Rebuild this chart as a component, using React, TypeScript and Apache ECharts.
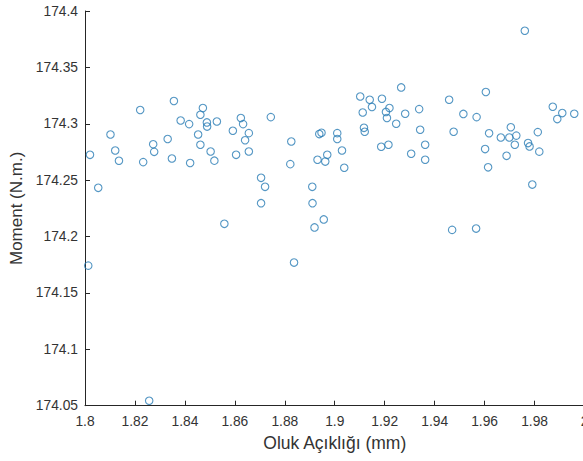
import React, { useEffect, useRef } from "react";
import * as echarts from "echarts";

const xValues: number[] = [
  1.8013, 1.802, 1.8053, 1.8102, 1.8121, 1.8136, 1.8221, 1.8233, 1.8257, 1.8273,
  1.8277, 1.8331, 1.8348, 1.8356, 1.8383, 1.8417, 1.8421, 1.8453, 1.8462, 1.8462,
  1.8472, 1.8488, 1.8489, 1.8528, 1.8503, 1.8518, 1.8558, 1.8592, 1.8605, 1.8624,
  1.8633, 1.8641, 1.8656, 1.8656, 1.8705, 1.8721, 1.8705, 1.8744, 1.8822, 1.8826,
  1.8837, 1.891, 1.8911, 1.8919, 1.8956, 1.8931, 1.8938, 1.8947, 1.8962, 1.897,
  1.901, 1.901, 1.9029, 1.9038, 1.9102, 1.9112, 1.9117, 1.912, 1.914, 1.9149,
  1.9186, 1.9189, 1.9205, 1.9209, 1.9215, 1.9219, 1.9246, 1.9266, 1.9282, 1.9306,
  1.9338, 1.9342, 1.9362, 1.9362, 1.9458, 1.947, 1.9476, 1.9515, 1.9566, 1.9568,
  1.9605, 1.9602, 1.9614, 1.9618, 1.9665, 1.9688, 1.9699, 1.9705, 1.9727, 1.9721,
  1.9761, 1.9774, 1.978, 1.9791, 1.9813, 1.9819, 1.9873, 1.9891, 1.9911, 1.9959,
];

const yValues: number[] = [
  174.1742, 174.2725, 174.2432, 174.2905, 174.2763, 174.2672, 174.3122, 174.266, 174.0544, 174.2818,
  174.2751, 174.2865, 174.2692, 174.3202, 174.3029, 174.2997, 174.2652, 174.2905, 174.2814, 174.308,
  174.314, 174.3012, 174.2975, 174.302, 174.2754, 174.2673, 174.2113, 174.2938, 174.2725, 174.3051,
  174.2997, 174.2854, 174.2917, 174.2754, 174.2521, 174.2441, 174.2296, 174.3059, 174.2642, 174.2843,
  174.1769, 174.2441, 174.2296, 174.2081, 174.2152, 174.2681, 174.2909, 174.292, 174.2665, 174.2725,
  174.2917, 174.2865, 174.2763, 174.261, 174.3242, 174.31, 174.2964, 174.2929, 174.3213, 174.3149,
  174.2796, 174.3222, 174.3105, 174.3051, 174.2814, 174.3139, 174.3, 174.3322, 174.3089, 174.2734,
  174.313, 174.2947, 174.2814, 174.2681, 174.3213, 174.2059, 174.2929, 174.3087, 174.2071, 174.3059,
  174.3282, 174.2776, 174.2614, 174.2916, 174.2878, 174.2716, 174.2878, 174.2969, 174.2895, 174.2814,
  174.3825, 174.2829, 174.2799, 174.2461, 174.2926, 174.2753, 174.3151, 174.3042, 174.3095, 174.3089,
];

const xName = "Oluk Açıklığı (mm)";
const yName = "Moment (N.m.)";

const axisColor = "#262626";
const labelColor = "#333333";
const markerColor = "#2a7db5";
const font = "'Liberation Sans', Arial, Helvetica, sans-serif";

export default function App() {
  const ref = useRef<HTMLDivElement>(null);

  useEffect(() => {
    if (!ref.current) return;
    const chart = echarts.init(ref.current, null, { renderer: "svg" });
    const fmt = (v: number) => String(parseFloat(v.toFixed(4)));
    chart.setOption({
      animation: false,
      backgroundColor: "#ffffff",
      grid: {
        left: 85,
        top: 11,
        right: -1.5,
        bottom: 55.3,
        containLabel: false,
        outerBoundsMode: "none",
      },
      xAxis: {
        type: "value",
        min: 1.8,
        max: 2.0,
        interval: 0.02,
        name: xName,
        nameLocation: "middle",
        nameGap: 27,
        nameTextStyle: { color: labelColor, fontSize: 17.5, fontFamily: font },
        axisLine: { show: true, onZero: false, lineStyle: { color: axisColor, width: 1 } },
        axisTick: { show: true, inside: true, length: 5, lineStyle: { color: axisColor } },
        axisLabel: { color: labelColor, fontSize: 13.8, fontFamily: font, margin: 9, formatter: fmt },
        splitLine: { show: false },
      },
      yAxis: {
        type: "value",
        min: 174.05,
        max: 174.4,
        interval: 0.05,
        name: yName,
        nameLocation: "middle",
        nameGap: 59,
        nameRotate: 90,
        nameTextStyle: { color: labelColor, fontSize: 17, fontFamily: font },
        axisLine: { show: true, onZero: false, lineStyle: { color: axisColor, width: 1 } },
        axisTick: { show: true, inside: true, length: 5, lineStyle: { color: axisColor } },
        axisLabel: { color: labelColor, fontSize: 13.8, fontFamily: font, margin: 7, formatter: fmt },
        splitLine: { show: false },
      },
      series: [
        {
          type: "scatter",
          data: xValues.map((x, i) => [x, yValues[i]]),
          symbol: "circle",
          symbolSize: 7.5,
          itemStyle: { color: "rgba(0,0,0,0)", borderColor: markerColor, borderWidth: 1.1 },
          emphasis: { disabled: true },
          clip: false,
        },
      ],
    });
    return () => chart.dispose();
  }, []);

  return (
    <div
      ref={ref}
      style={{ position: "fixed", left: 0, top: 0, width: 583, height: 461, background: "#fff" }}
    />
  );
}
